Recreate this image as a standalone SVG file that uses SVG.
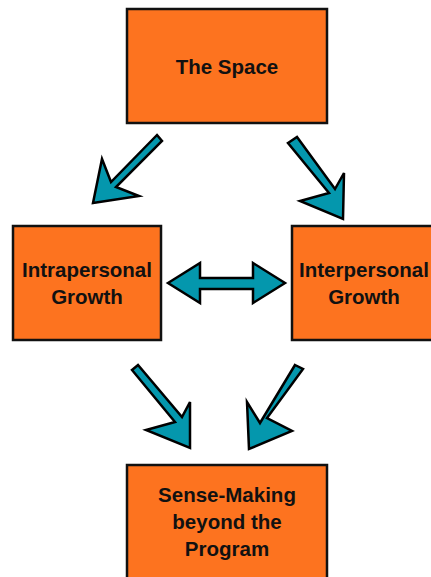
<svg xmlns="http://www.w3.org/2000/svg" width="431" height="577" viewBox="0 0 431 577">
<style>
.box{fill:#FD731F;stroke:#111;stroke-width:2.5}
.t{font-family:"Liberation Sans",Arial,sans-serif;font-weight:bold;font-size:20.5px;fill:#111;text-anchor:middle}
.arr{fill:#0497AD;stroke:#000;stroke-width:2.5;stroke-linejoin:miter}
</style>
<rect width="431" height="577" fill="#fff"/>
<g id="the-space"><rect class="box" x="127" y="9" width="200" height="114"/><text class="t" x="227" y="74">The Space</text></g>
<g id="intrapersonal"><rect class="box" x="13" y="226" width="148" height="114"/><text class="t" x="87" y="277">Intrapersonal</text><text class="t" x="87" y="304">Growth</text></g>
<g id="interpersonal"><rect class="box" x="292" y="226" width="146" height="114"/><text class="t" x="364" y="277">Interpersonal</text><text class="t" x="364" y="304">Growth</text></g>
<g id="sense-making"><rect class="box" x="127" y="465" width="200" height="118"/><text class="t" x="227" y="502">Sense-Making</text><text class="t" x="227" y="529">beyond the</text><text class="t" x="227" y="556">Program</text></g>
<g id="connectors">
<polygon class="arr" points="157,135 162,141 116,187 139,196 93,203 102,159 111,182"/>
<polygon class="arr" points="288,143 297,137 335,189 344,173 343,219 300,201 329,193"/>
<polygon class="arr" points="168,283 200,263 200,278 253,278 253,263 285,283 253,303 253,289 200,289 200,303"/>
<polygon class="arr" points="132,370 138,365 182,417 190,402 190,448 146,430 175,422"/>
<polygon class="arr" points="295,365 303,369 267,418 292,431 249,449 247,402 260,423"/>
</g>
</svg>
